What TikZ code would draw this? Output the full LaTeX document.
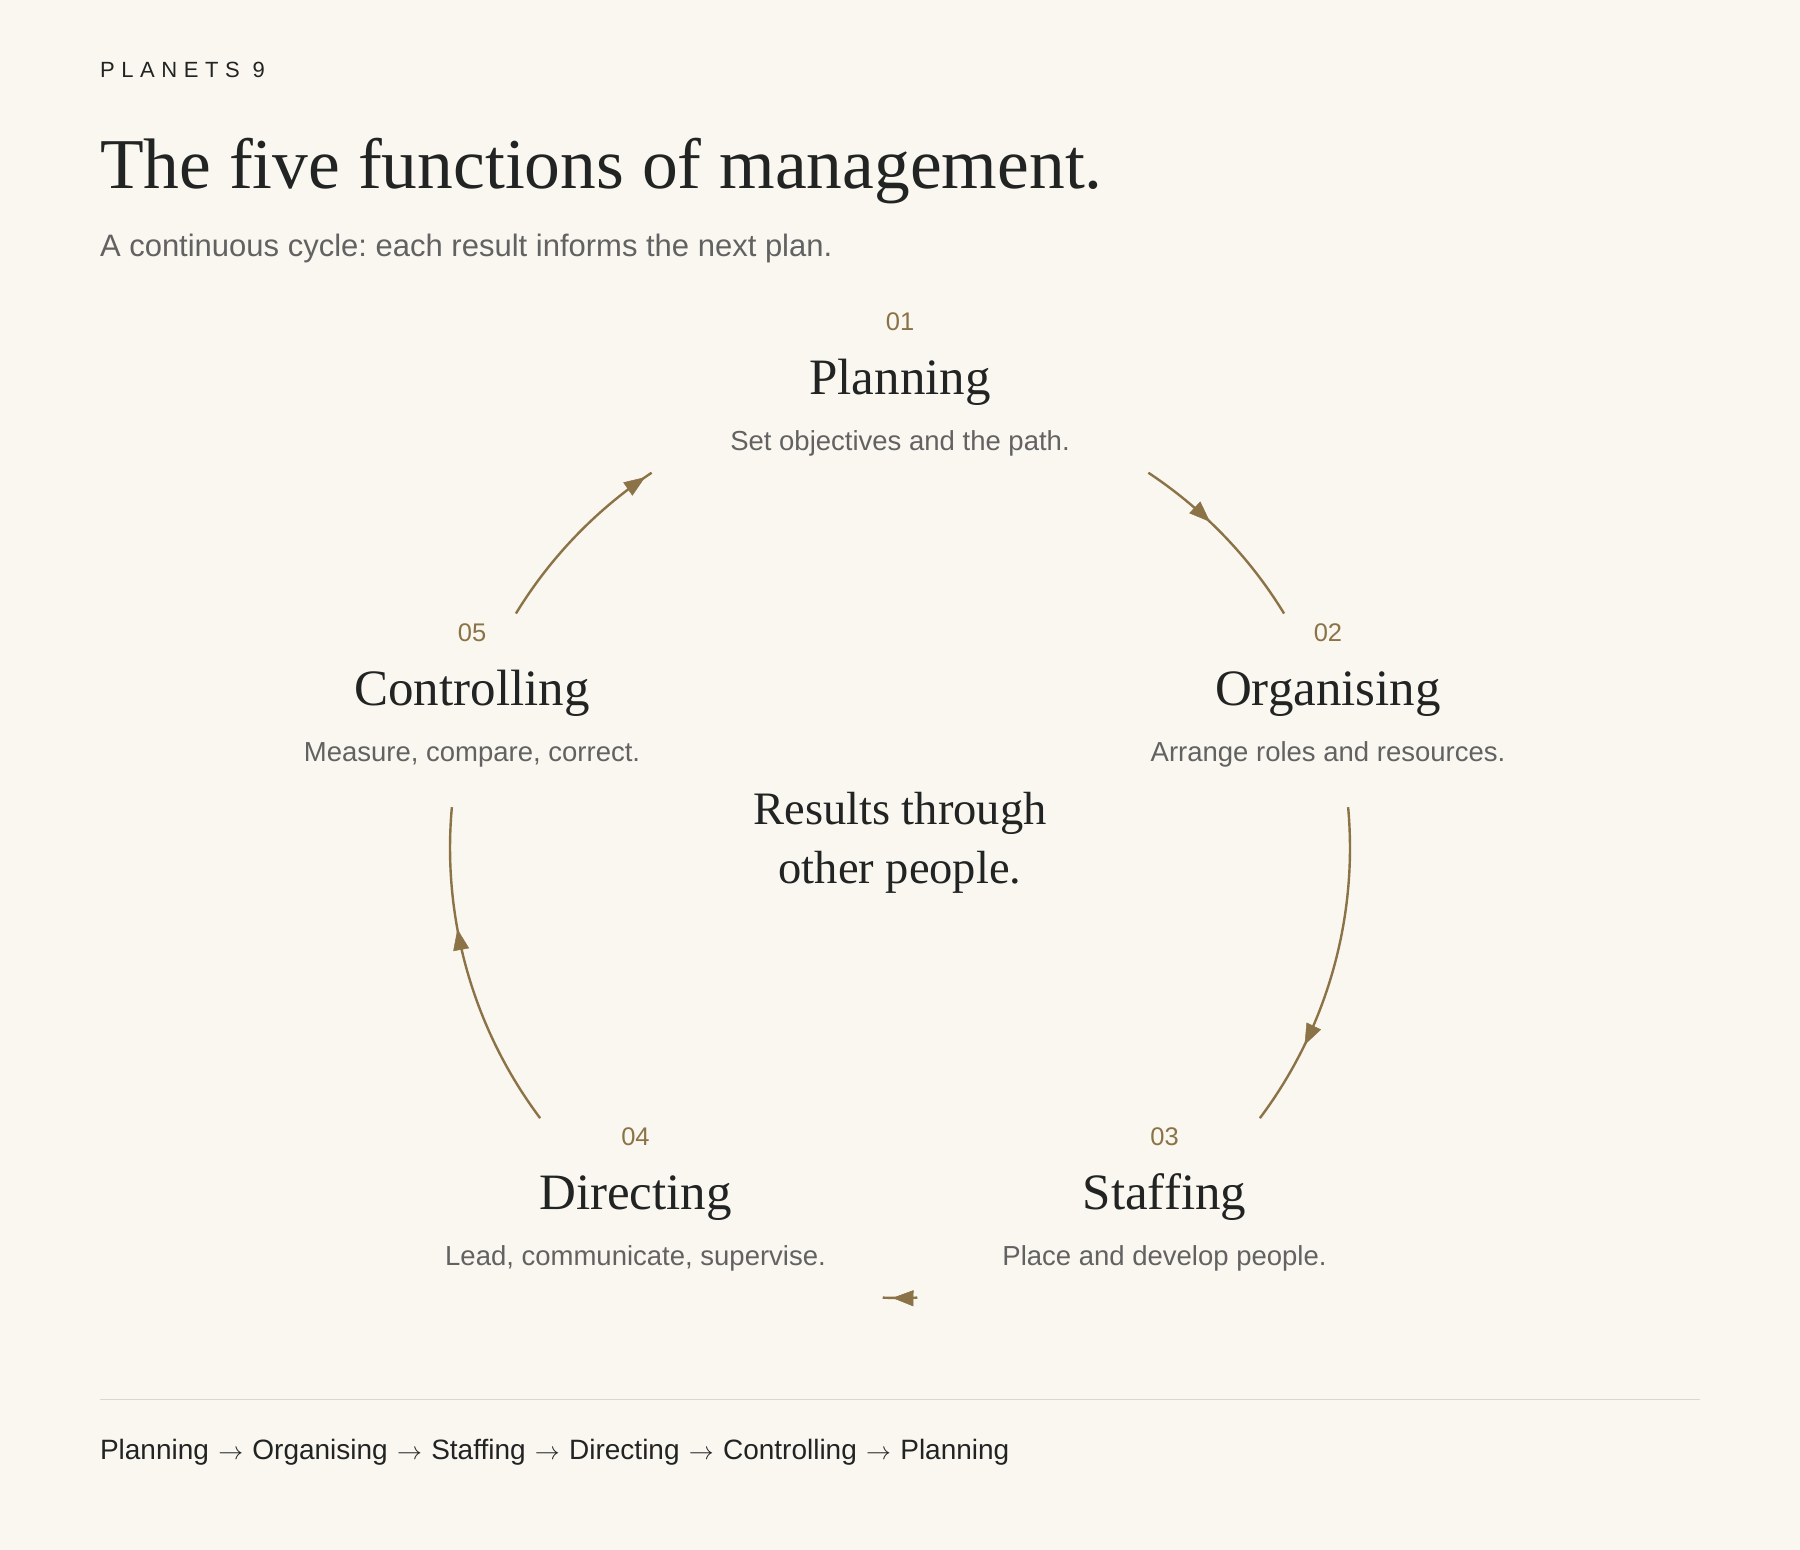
\documentclass[tikz,border=0pt]{standalone}
\usepackage{fontspec}
\setmainfont{Liberation Serif}
\setsansfont{Liberation Sans}
\newfontfamily\spacedsans[LetterSpace=30]{Liberation Sans}
\usetikzlibrary{arrows.meta,decorations.markings,calc}
\definecolor{bgc}{HTML}{F9F7EF}
\definecolor{ink}{HTML}{222424}
\definecolor{muted}{HTML}{626262}
\definecolor{gold}{HTML}{8B7347}
\definecolor{rulec}{HTML}{DDD6CC}
\newcommand{\flowarrow}{\hspace{1.5pt}\ensuremath{\rightarrow}\hspace{1.5pt}}
\begin{document}
\frenchspacing
\begin{tikzpicture}[x=1pt,y=1pt,
  every node/.style={inner sep=0pt, outer sep=0pt},
  numlbl/.style={anchor=base, text=gold, font=\sffamily\fontsize{25.5}{25.5}\selectfont},
  ttl/.style={anchor=base, text=ink, font=\rmfamily\fontsize{51}{51}\selectfont},
  dsc/.style={anchor=base, text=muted, font=\sffamily\fontsize{27.5}{27.5}\selectfont},
  ctrtxt/.style={anchor=base, text=ink, font=\rmfamily\fontsize{46.5}{46.5}\selectfont},
  cyc/.style={draw=gold, line width=2.4pt},
  cycarrow/.style={postaction={decorate}, decoration={markings,
      mark=at position #1 with {\arrow[line width=0.5pt]{Triangle[length=21pt,width=16pt]}}}}
]
% background and bounding box
\fill[bgc] (0,0) rectangle (1800,1550);
\useasboundingbox (0,0) rectangle (1800,1550);

% header
\node[anchor=base west, text=ink, font=\spacedsans\fontsize{22}{22}\selectfont] (brand) at (100,1472) {PLANETS 9};
\node[anchor=base west, text=ink, font=\rmfamily\fontsize{71.5}{71.5}\selectfont] (title) at (100,1361) {The five functions of management.};
\node[anchor=base west, text=muted, font=\sffamily\fontsize{31}{31}\selectfont] (subtitle) at (100,1293) {A continuous cycle: each result informs the next plan.};

% cycle geometry
\coordinate (C) at (900,702);
\coordinate (n1) at ($(C)+(90:450)$);
\coordinate (n2) at ($(C)+(18:450)$);
\coordinate (n3) at ($(C)+(-54:450)$);
\coordinate (n4) at ($(C)+(-126:450)$);
\coordinate (n5) at ($(C)+(162:450)$);

% stage labels
\node[numlbl] (n1num) at ($(n1)+(0,67)$) {01};
\node[ttl]    (n1ttl) at ($(n1)+(0,3)$) {Planning};
\node[dsc]    (n1dsc) at ($(n1)+(0,-53)$) {Set objectives and the path.};

\node[numlbl] (n2num) at ($(n2)+(0,67)$) {02};
\node[ttl]    (n2ttl) at ($(n2)+(0,3)$) {Organising};
\node[dsc]    (n2dsc) at ($(n2)+(0,-53)$) {Arrange roles and resources.};

\node[numlbl] (n3num) at ($(n3)+(0,67)$) {03};
\node[ttl]    (n3ttl) at ($(n3)+(0,3)$) {Staffing};
\node[dsc]    (n3dsc) at ($(n3)+(0,-53)$) {Place and develop people.};

\node[numlbl] (n4num) at ($(n4)+(0,67)$) {04};
\node[ttl]    (n4ttl) at ($(n4)+(0,3)$) {Directing};
\node[dsc]    (n4dsc) at ($(n4)+(0,-53)$) {Lead, communicate, supervise.};

\node[numlbl] (n5num) at ($(n5)+(0,67)$) {05};
\node[ttl]    (n5ttl) at ($(n5)+(0,3)$) {Controlling};
\node[dsc]    (n5dsc) at ($(n5)+(0,-53)$) {Measure, compare, correct.};

% centre text
\node[ctrtxt] (ctr1) at (900,725) {Results through};
\node[ctrtxt] (ctr2) at (900,666) {other people.};

% arc end points
\coordinate (a1s) at ($(C)+(56.5:450)$);
\coordinate (a2s) at ($(C)+(5.2:450)$);
\coordinate (a3s) at ($(C)+(-87.8:450)$);
\coordinate (a4s) at ($(C)+(216.9:450)$);
\coordinate (a5s) at ($(C)+(148.6:450)$);

% connectors
\draw[cyc, cycarrow=0.40] (a1s) arc[start angle=56.5, end angle=31.4, radius=450];
\draw[cyc, cycarrow=0.74] (a2s) arc[start angle=5.2, end angle=-36.9, radius=450];
\draw[cyc, cycarrow=0.72] (a3s) arc[start angle=-87.8, end angle=-92.2, radius=450];
\draw[cyc, cycarrow=0.63] (a4s) arc[start angle=216.9, end angle=174.8, radius=450];
\draw[cyc, cycarrow=0.96] (a5s) arc[start angle=148.6, end angle=123.5, radius=450];

% footer
\coordinate (rl) at (100,150.5);
\coordinate (rr) at (1700,150.5);
\draw[rulec, line width=1.5pt] (rl) -- (rr);
\node[anchor=base west, text=ink, font=\sffamily\fontsize{28}{28}\selectfont] (footer) at (100,90) {Planning \flowarrow{} Organising \flowarrow{} Staffing \flowarrow{} Directing \flowarrow{} Controlling \flowarrow{} Planning};
\end{tikzpicture}
\end{document}
